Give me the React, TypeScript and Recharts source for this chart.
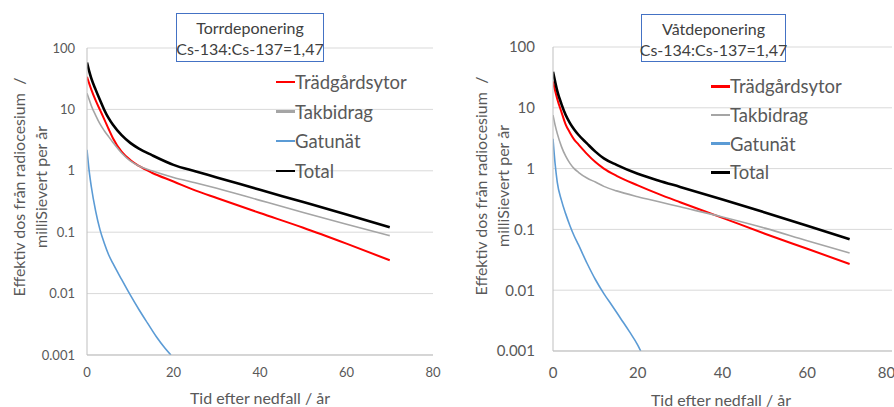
import { LineChart, Line, XAxis, YAxis, CartesianGrid, Legend } from "recharts"

const FONT = "Lato, 'Open Sans', sans-serif"
const TEXT = "#595959"
const AXIS = "#bfbfbf"
const GRID = "#d9d9d9"

// years after fallout, shared by the garden / roof / total curves
const years = [0, 0.5, 1, 2, 3, 4, 5, 6, 8, 10, 12, 15, 20, 25, 30, 40, 50, 60, 70]

// Torrdeponering (mSv per year)
const dryGarden = [34, 26.5, 21, 14, 9.8, 6.9, 4.8, 3.4, 2.05, 1.5, 1.2, 0.93, 0.67, 0.48, 0.36, 0.205, 0.118, 0.065, 0.035]
const dryRoof = [18.3, 14.5, 11.5, 8, 5.8, 4.5, 3.6, 2.9, 1.95, 1.45, 1.2, 1.0, 0.78, 0.64, 0.52, 0.33, 0.21, 0.135, 0.088]
const dryTotal = [58, 42, 32, 21, 14.2, 9.8, 7.2, 5.6, 3.8, 2.85, 2.3, 1.8, 1.25, 0.98, 0.78, 0.49, 0.31, 0.195, 0.12]
const dryStreetYears = [0, 0.5, 1, 2, 3, 4, 5, 6, 8, 10, 12, 14, 16, 18, 19.4]
const dryStreet = [2.2, 1.0, 0.55, 0.22, 0.11, 0.066, 0.043, 0.031, 0.017, 0.0095, 0.0055, 0.0033, 0.002, 0.0013, 0.001]

// Våtdeponering (mSv per year)
const wetGarden = [27, 19, 14, 8.5, 5.3, 3.9, 3.0, 2.5, 1.75, 1.28, 1.0, 0.76, 0.53, 0.38, 0.28, 0.155, 0.085, 0.048, 0.027]
const wetRoof = [7.6, 5.2, 3.8, 2.3, 1.6, 1.22, 1.0, 0.87, 0.7, 0.6, 0.51, 0.43, 0.345, 0.285, 0.235, 0.16, 0.105, 0.065, 0.041]
const wetTotal = [39, 27, 19, 11.5, 7.6, 5.6, 4.4, 3.6, 2.6, 1.9, 1.47, 1.15, 0.82, 0.63, 0.5, 0.31, 0.19, 0.115, 0.069]
const wetStreetYears = [0, 0.5, 1, 2, 3, 4, 5, 6, 8, 10, 12, 14, 16, 18, 20, 20.7]
const wetStreet = [3.1, 1.2, 0.6, 0.3, 0.18, 0.115, 0.078, 0.056, 0.028, 0.015, 0.0088, 0.0055, 0.0034, 0.0021, 0.00125, 0.001]

const seriesNames = ["Trädgårdsytor", "Takbidrag", "Gatunät", "Total"]
const seriesColors = ["#ff0000", "#a5a5a5", "#5b9bd5", "#000000"]
const seriesWidths = [2, 1.6, 1.6, 2.6]

const xTicks = [0, 20, 40, 60, 80]
const yTicks = [0.001, 0.01, 0.1, 1, 10, 100]
const xMinorTicks = Array.from({ length: 21 }, (_, i) => i * 4)
const yMinorTicks = [0.001, 0.01, 0.1, 1, 10].flatMap((d) =>
  [1, 2, 3, 4, 5, 6, 7, 8, 9].map((k) => +(k * d).toPrecision(3))
).concat([100])

type Panel = {
  left: number
  yAxisWidth: number
  margin: { top: number; right: number; bottom: number; left: number }
  tickFont: number
  xTickMargin: number
  yTickMargin: number
  legend: { left: number; top: number; row: number }
  garden: number[]
  roof: number[]
  total: number[]
  streetYears: number[]
  street: number[]
}

const panels: Panel[] = [
  {
    left: 0,
    yAxisWidth: 87,
    margin: { top: 48, right: 14, bottom: 22, left: 0 },
    tickFont: 13,
    xTickMargin: 7,
    yTickMargin: 6,
    legend: { left: 276, top: 67, row: 29.7 },
    garden: dryGarden,
    roof: dryRoof,
    total: dryTotal,
    streetYears: dryStreetYears,
    street: dryStreet,
  },
  {
    left: 447,
    yAxisWidth: 106,
    margin: { top: 47, right: 2, bottom: 26, left: 0 },
    tickFont: 15,
    xTickMargin: 10,
    yTickMargin: 12,
    legend: { left: 264, top: 72, row: 28.7 },
    garden: wetGarden,
    roof: wetRoof,
    total: wetTotal,
    streetYears: wetStreetYears,
    street: wetStreet,
  },
]

// legend keeps the series order instead of sorting by name
const LegendBox = ({ payload, row }: any) => {
  const items = [...(payload || [])].sort(
    (a: any, b: any) => seriesNames.indexOf(a.value) - seriesNames.indexOf(b.value)
  )
  return (
    <div style={{ fontFamily: FONT, fontSize: 18.5, color: TEXT }}>
      {items.map((p: any) => (
        <div key={p.value} style={{ display: "flex", alignItems: "center", height: row }}>
          <div style={{ width: 19, height: 2.5, background: p.color }} />
          <span>{p.value}</span>
        </div>
      ))}
    </div>
  )
}

function DoseChart({ panel }: { panel: Panel }) {
  const table = years.map((t, i) => ({
    t,
    garden: panel.garden[i],
    roof: panel.roof[i],
    total: panel.total[i],
  }))
  const street = panel.streetYears.map((t, i) => ({ t, street: panel.street[i] }))
  const tickStyle = { fill: TEXT, fontSize: panel.tickFont, fontFamily: FONT }

  return (
    <LineChart width={447} height={407} data={table} margin={panel.margin}>
      <CartesianGrid vertical={false} stroke={GRID} />
      <XAxis
        dataKey="t"
        type="number"
        domain={[0, 80]}
        ticks={xTicks}
        allowDataOverflow
        tick={tickStyle}
        tickLine={false}
        tickMargin={panel.xTickMargin}
        axisLine={{ stroke: AXIS }}
        height={30}
      />
      <XAxis
        xAxisId="minor"
        dataKey="t"
        type="number"
        domain={[0, 80]}
        ticks={xMinorTicks}
        mirror
        tick={false}
        tickSize={4}
        tickLine={{ stroke: AXIS }}
        axisLine={false}
      />
      <YAxis
        scale="log"
        type="number"
        domain={[0.001, 100]}
        ticks={yTicks}
        allowDataOverflow
        width={panel.yAxisWidth}
        tick={tickStyle}
        tickLine={false}
        tickMargin={panel.yTickMargin}
        axisLine={{ stroke: AXIS }}
        tickFormatter={(v) => String(v)}
      />
      <YAxis
        yAxisId="minor"
        scale="log"
        type="number"
        domain={[0.001, 100]}
        ticks={yMinorTicks}
        allowDataOverflow
        mirror
        tick={false}
        tickSize={3}
        tickLine={{ stroke: AXIS }}
        axisLine={false}
      />
      <Legend
        layout="vertical"
        align="center"
        verticalAlign="middle"
        wrapperStyle={{ left: panel.legend.left, top: panel.legend.top, width: "auto" }}
        content={(props: any) => <LegendBox {...props} row={panel.legend.row} />}
      />
      <Line name={seriesNames[0]} dataKey="garden" type="monotone" stroke={seriesColors[0]} strokeWidth={seriesWidths[0]} dot={false} isAnimationActive={false} />
      <Line name={seriesNames[1]} dataKey="roof" type="monotone" stroke={seriesColors[1]} strokeWidth={seriesWidths[1]} dot={false} isAnimationActive={false} />
      <Line name={seriesNames[2]} data={street} dataKey="street" type="monotone" stroke={seriesColors[2]} strokeWidth={seriesWidths[2]} dot={false} isAnimationActive={false} />
      <Line name={seriesNames[3]} dataKey="total" type="monotone" stroke={seriesColors[3]} strokeWidth={seriesWidths[3]} dot={false} isAnimationActive={false} />
    </LineChart>
  )
}

const boxes = [
  { x: 176.5, y: 13.5, w: 147, h: 48, title: "Torrdeponering" },
  { x: 641.5, y: 14.5, w: 144, h: 47, title: "Våtdeponering" },
]
const yTitles = [
  { x1: 18, x2: 40, y: 187 },
  { x1: 480, x2: 502, y: 186 },
]
const xTitles = [
  { x: 260, y: 397 },
  { x: 721, y: 399 },
]

export default function App() {
  return (
    <div style={{ position: "absolute", left: 0, top: 0, width: 894, height: 407, background: "#fff", overflow: "hidden" }}>
      {panels.map((p, i) => (
        <div key={i} style={{ position: "absolute", left: p.left, top: 0 }}>
          <DoseChart panel={p} />
        </div>
      ))}
      <svg width={894} height={407} style={{ position: "absolute", left: 0, top: 0, pointerEvents: "none" }} fontFamily={FONT}>
        {boxes.map((b) => (
          <g key={b.title}>
            <rect x={b.x} y={b.y} width={b.w} height={b.h} fill="#fff" stroke="#4472c4" strokeWidth={1} />
            <text x={b.x + b.w / 2} y={b.y + 14} textAnchor="middle" dominantBaseline="central" fontSize={16} fill="#404040">
              {b.title}
            </text>
            <text x={b.x + b.w / 2} y={b.y + 35} textAnchor="middle" dominantBaseline="central" fontSize={16} fill="#404040">
              Cs-134:Cs-137=1,47
            </text>
          </g>
        ))}
        {yTitles.map((t, i) => (
          <g key={i} fontSize={16} fill={TEXT}>
            <text x={t.x1} y={t.y} transform={`rotate(-90 ${t.x1} ${t.y})`} textAnchor="middle" dominantBaseline="central">
              Effektiv dos från radiocesium {"\u00a0"}/
            </text>
            <text x={t.x2} y={t.y} transform={`rotate(-90 ${t.x2} ${t.y})`} textAnchor="middle" dominantBaseline="central">
              milliSievert per år
            </text>
          </g>
        ))}
        {xTitles.map((t, i) => (
          <text key={i} x={t.x} y={t.y} textAnchor="middle" dominantBaseline="central" fontSize={16} fill={TEXT}>
            Tid efter nedfall / år
          </text>
        ))}
      </svg>
    </div>
  )
}
